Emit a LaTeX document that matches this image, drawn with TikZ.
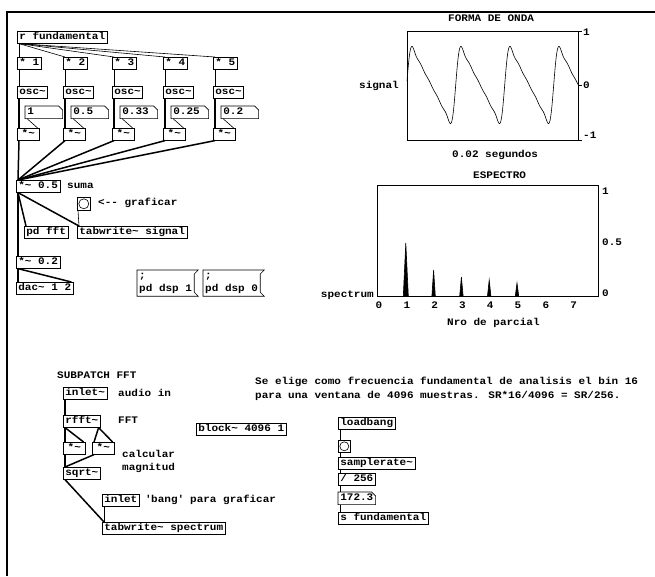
\documentclass[tikz,border=0pt]{standalone}
\usepackage{fontspec}
\usepackage{tikz}
\newfontfamily\pdmono[FakeStretch=1.1]{Liberation Mono}
\newcommand\pdfont{\pdmono\bfseries\fontsize{10}{13.5}\selectfont}

\tikzset{
  pdobj/.style={draw, line width=0.6pt, anchor=north west, inner xsep=2pt, inner ysep=1.5pt,
    text height=7pt, text depth=2pt, font=\pdfont},
  pdnum/.style={pdobj, draw=none, text width=33pt, align=left},
  pdmsg/.style={anchor=north west, inner xsep=2pt, inner ysep=2.5pt, align=left, font=\pdfont},
  pdbang/.style={draw, line width=0.6pt, anchor=north west, minimum size=13pt, inner sep=0pt},
  pdnote/.style={anchor=west, inner sep=0pt, text height=7pt, text depth=2pt, font=\pdfont},
  pdpara/.style={anchor=north west, inner sep=0pt, align=left, font=\pdfont},
  sig/.style={line width=1.5pt},
  ctl/.style={line width=0.6pt},
  declare function={saw(\t)=0.96*sin(\t)+0.43*sin(2*\t)+0.23*sin(3*\t)+0.12*sin(4*\t)+0.05*sin(5*\t);}
}

\begin{document}
\begin{tikzpicture}[x=1pt,y=-1pt]
\useasboundingbox (0,0) rectangle (655,576);
\draw[line width=2pt] (7,576) -- (7,12) -- (655,12);

% oscillator bank
\node[pdobj] (rfund) at (17,31) {r fundamental};
\foreach \k/\x/\v in {1/17/1, 2/63/0.5, 3/112/0.33, 4/163/0.25, 5/213/0.2}{
  \node[pdobj] (mul\k) at (\x,57) {* \k};
  \node[pdobj] (osc\k) at (\x,86) {osc\textasciitilde};
  \node[pdnum] (amp\k) at (\x+8,106) {\v};
  \node[pdobj, minimum width=22pt] (gain\k) at (\x,128) {*\textasciitilde};
}
\node[pdobj] (sum) at (16,180) {*\textasciitilde{} 0.5};
\node[pdnote] at (67,186) {suma};
\node[pdbang] (bang1) at (77,197) {};
\draw[ctl] (bang1.center) circle (5pt);
\node[pdnote] at (98,203) {<-{}- graficar};
\node[pdobj] (pdfft) at (24,226) {pd fft};
\node[pdobj] (tabsig) at (77,226) {tabwrite\textasciitilde{} signal};
\node[pdobj] (vol) at (16,256) {*\textasciitilde{} 0.2};
\node[pdobj] (dac) at (16,282) {dac\textasciitilde{} 1 2};
\node[pdmsg] (dsp1) at (137,270) {;\\pd dsp 1};
\node[pdmsg] (dsp0) at (203,270) {;\\pd dsp 0};

\foreach \k in {1,...,5}{
  \draw[ctl] ([xshift=2pt]rfund.south west) -- ([xshift=2pt]mul\k.north west);
  \draw[ctl] ([xshift=2pt]mul\k.south west) -- ([xshift=2pt]osc\k.north west);
  \draw[sig] ([xshift=2pt]osc\k.south west) -- ([xshift=2pt]gain\k.north west);
  \draw[ctl] ([xshift=2pt]amp\k.south west) -- ([xshift=-2pt]gain\k.north east);
  \draw[sig] ([xshift=2pt]gain\k.south west) -- ([xshift=2pt]sum.north west);
}
\draw[sig] ([xshift=2pt]sum.south west) -- ([xshift=2pt]pdfft.north west);
\draw[sig] ([xshift=2pt]sum.south west) -- ([xshift=2pt]tabsig.north west);
\draw[sig] ([xshift=2pt]sum.south west) -- ([xshift=2pt]vol.north west);
\draw[ctl] ([xshift=1pt]bang1.south west) -- ([xshift=2pt]tabsig.north west);
\draw[sig] ([xshift=2pt]vol.south west) -- ([xshift=2pt]dac.north west);
\draw[sig] ([xshift=2pt]vol.south west) -- ([xshift=-2pt]dac.north east);

% waveform graph
\node[pdnote] at (448,19) {FORMA DE ONDA};
\draw[ctl] (407,31) rectangle (578,140);
\draw[ctl] plot[domain=407:578, samples=343, variable=\x] (\x,{85-30.5*saw((\x-406.7)*7.347)});
\foreach \ty/\ly/\tl in {31/33/1, 85/86/0, 140/136/-1}{
  \draw[ctl] (578,\ty) -- (582,\ty);
  \node[pdnote] at (583,\ly) {\tl};
}
\node[pdnote, anchor=east] at (399,86) {signal};
\node[pdnote] at (452,155) {0.02 segundos};

% spectrum graph
\node[pdnote] at (473,176) {ESPECTRO};
\draw[ctl] (377,185) rectangle (598,296);
\foreach \k/\h/\w in {1/53/2.5, 2/26/1.7, 3/19/1.7, 4/16/1.7, 5/13/1.7}
  \filldraw[ctl] (378+27.8*\k-\w,296) -- (378+27.8*\k,296-\h) -- (378+27.8*\k+\w,296) -- cycle;
\foreach \ly/\tl in {192/1, 243/0.5, 294/0}
  \node[pdnote] at (602,\ly) {\tl};
\node[pdnote, anchor=east] at (374,295) {spectrum};
\foreach \k in {0,...,7}
  \node[pdnote, anchor=center] at (379+27.8*\k,306) {\k};
\node[pdnote] at (447,323) {Nro de parcial};

% fft subpatch
\node[pdnote] at (57,376) {SUBPATCH FFT};
\node[pdobj] (inl) at (63,387) {inlet\textasciitilde};
\node[pdnote] at (118,394) {audio in};
\node[pdobj] (rfft) at (63,415) {rfft\textasciitilde};
\node[pdnote] at (118,421) {FFT};
\node[pdobj, minimum width=22pt] (re) at (63,442) {*\textasciitilde};
\node[pdobj, minimum width=22pt] (im) at (92,442) {*\textasciitilde};
\node[pdpara] at (122,450) {calcular\\magnitud};
\node[pdobj] (sqrt) at (63,467) {sqrt\textasciitilde};
\node[pdobj] (inb) at (102,494) {inlet};
\node[pdnote] at (145,500) {\textquotesingle bang\textquotesingle{} para graficar};
\node[pdobj] (tabspec) at (102,522) {tabwrite\textasciitilde{} spectrum};
\node[pdobj] (blk) at (196,423) {block\textasciitilde{} 4096 1};

\draw[sig] ([xshift=2pt]inl.south west) -- ([xshift=2pt]rfft.north west);
\draw[sig] ([xshift=2pt]rfft.south west) -- ([xshift=2pt]re.north west);
\draw[sig] ([xshift=2pt]rfft.south west) -- ([xshift=-2pt]re.north east);
\draw[sig] ([xshift=-2pt]rfft.south east) -- ([xshift=2pt]im.north west);
\draw[sig] ([xshift=-2pt]rfft.south east) -- ([xshift=-2pt]im.north east);
\draw[sig] ([xshift=2pt]re.south west) -- ([xshift=2pt]sqrt.north west);
\draw[sig] ([xshift=2pt]im.south west) -- ([xshift=2pt]sqrt.north west);
\draw[sig] ([xshift=2pt]sqrt.south west) -- ([xshift=2pt]tabspec.north west);
\draw[ctl] ([xshift=2pt]inb.south west) -- ([xshift=2pt]tabspec.north west);

% fundamental from sample rate
\node[pdpara] at (255,377) {Se elige como frecuencia fundamental de analisis el bin 16\\para una ventana de 4096 muestras. SR*16/4096 = SR/256.};
\node[pdobj] (lb) at (338,417) {loadbang};
\node[pdbang, minimum size=12pt] (bang2) at (338,440) {};
\draw[ctl] (bang2.center) circle (4.5pt);
\node[pdobj] (srate) at (338,457) {samplerate\textasciitilde};
\node[pdobj] (div) at (338,473) {/ 256};
\node[pdnum] (sr) at (338,492) {172.3};
\node[pdobj] (sfund) at (338,512) {s fundamental};

\draw[ctl] ([xshift=2pt]lb.south west) -- ([xshift=2pt]bang2.north west);
\draw[ctl] ([xshift=2pt]bang2.south west) -- ([xshift=2pt]srate.north west);
\draw[ctl] ([xshift=2pt]srate.south west) -- ([xshift=2pt]div.north west);
\draw[ctl] ([xshift=2pt]div.south west) -- ([xshift=2pt]sr.north west);
\draw[ctl] ([xshift=2pt]sr.south west) -- ([xshift=2pt]sfund.north west);

% number and message outlines
\foreach \n in {amp1,amp2,amp3,amp4,amp5,sr}
  \draw[ctl] (\n.north west) -- ([xshift=-4pt]\n.north east) -- ([yshift=-4pt]\n.north east)
    -- (\n.south east) -- (\n.south west) -- cycle;
\foreach \n in {dsp1,dsp0}
  \draw[ctl] (\n.north west) -- ([xshift=4pt]\n.north east) -- ([yshift=-4pt]\n.north east)
    -- ([yshift=4pt]\n.south east) -- ([xshift=4pt]\n.south east) -- (\n.south west) -- cycle;
\end{tikzpicture}
\end{document}
